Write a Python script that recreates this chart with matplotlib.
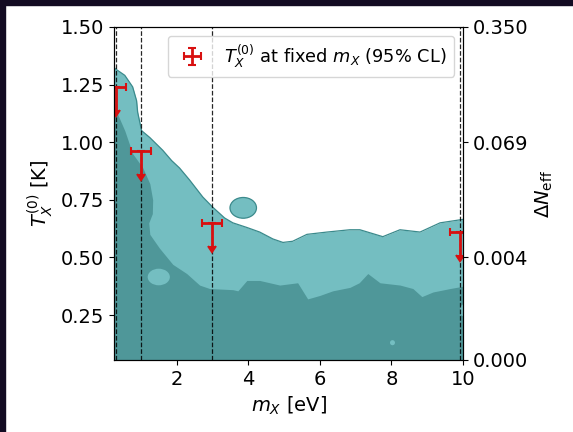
import numpy as np
import matplotlib
matplotlib.use("Agg")
import matplotlib.pyplot as plt
from matplotlib.patches import Ellipse, Rectangle

# outer (light) credible region, upper edge
outer_x = [0.25, 0.27, 0.55, 0.77, 0.88, 0.91, 1.02, 1.25, 1.61, 1.86, 2.08, 2.36,
           2.73, 3.0, 3.34, 3.57, 3.96, 4.32, 4.69, 4.97, 5.24, 5.64, 6.2, 6.84,
           7.12, 7.76, 8.24, 8.8, 9.36, 10.0]
outer_T = [1.33, 1.32, 1.29, 1.24, 1.18, 1.13, 1.05, 1.02, 0.965, 0.92, 0.888, 0.836,
           0.762, 0.719, 0.671, 0.65, 0.63, 0.61, 0.58, 0.565, 0.57, 0.60, 0.61, 0.62,
           0.62, 0.59, 0.62, 0.61, 0.65, 0.665]

# inner (dark) credible region, upper edge
inner_x = [0.25, 0.27, 0.41, 0.55, 0.77, 1.05, 1.25, 1.33, 1.32, 1.22, 1.25, 1.52,
           1.89, 2.28, 2.64, 2.92, 3.57, 3.71, 3.96, 4.32, 4.88, 5.38, 5.52, 5.66,
           6.0, 6.36, 6.84, 7.1, 7.34, 7.68, 8.24, 8.6, 8.85, 9.16, 9.64, 10.0]
inner_T = [1.16, 1.15, 1.10, 1.05, 0.95, 0.89, 0.82, 0.75, 0.69, 0.65, 0.60, 0.54,
           0.47, 0.43, 0.38, 0.365, 0.36, 0.355, 0.40, 0.40, 0.38, 0.39, 0.355, 0.32,
           0.335, 0.355, 0.37, 0.39, 0.43, 0.39, 0.38, 0.365, 0.33, 0.35, 0.365, 0.375]

# isolated islands of the contours: (m_X, T, width, height)
light_islands = [(3.86, 0.715, 0.74, 0.09), (1.5, 0.415, 0.62, 0.072),
                 (8.03, 0.13, 0.14, 0.022), (10.0, 0.27, 0.16, 0.05)]

# upper limits at fixed mass
lim_m = [0.3, 1.0, 3.0, 9.93]
lim_T = [1.24, 0.96, 0.65, 0.61]
lim_err = 0.1
mass_err = 0.28

# right axis: Delta N_eff at given T
dneff_T = [0.055, 0.5, 1.0, 1.5]
dneff_labels = ["0.000", "0.004", "0.069", "0.350"]

light = "#74bec1"
dark = "#4f9799"
edge = "#3b8a8c"
red = "#d81010"
ymin, ymax = 0.055, 1.5

fig = plt.figure(figsize=(5.73, 4.32), dpi=100)
ax = fig.add_axes([0.199, 0.1667, 0.609, 0.771])

ax.fill_between(outer_x, outer_T, ymin, color=light, lw=0)
ax.plot(outer_x, outer_T, color=edge, lw=0.9)
for cx, cy, w, h in light_islands[:1]:
    ax.add_patch(Ellipse((cx, cy), w, h, facecolor=light, edgecolor=edge, lw=0.9))
ax.fill_between(inner_x, inner_T, ymin, color=dark, lw=0)
for cx, cy, w, h in light_islands[1:]:
    ax.add_patch(Ellipse((cx, cy), w, h, facecolor=light, edgecolor="none"))

for m in lim_m:
    ax.axvline(m, color="k", ls="--", lw=0.9, alpha=0.85)

eb = ax.errorbar(lim_m, lim_T, yerr=lim_err, xerr=mass_err, uplims=True, fmt="none",
                 ecolor=red, elinewidth=2, capsize=3, capthick=1.5,
                 label=r"$T_X^{(0)}$ at fixed $m_X$ (95% CL)")
for cl in eb[1]:
    cl.set_markeredgecolor(red)
    cl.set_markerfacecolor(red)

ax.set_xlim(0.25, 10)
ax.set_ylim(ymin, ymax)
ax.set_xticks([2, 4, 6, 8, 10])
ax.set_yticks([0.25, 0.5, 0.75, 1.0, 1.25, 1.5])
ax.set_yticklabels(["0.25", "0.50", "0.75", "1.00", "1.25", "1.50"])
ax.tick_params(labelsize=14)
ax.set_xlabel(r"$m_X$ [eV]", fontsize=14)
ax.set_ylabel(r"$T_X^{(0)}$ [K]", fontsize=14)
ax.legend(loc="upper right", fontsize=12.8)

ax2 = ax.twinx()
ax2.set_ylim(ymin, ymax)
ax2.set_yticks(dneff_T)
ax2.set_yticklabels(dneff_labels)
ax2.tick_params(labelsize=14)
ax2.set_ylabel(r"$\Delta N_{\rm eff}$", fontsize=14)

# dark frame of the screenshot
fig.patches.append(Rectangle((0, 1 - 5 / 432), 1, 5 / 432, transform=fig.transFigure,
                             color="#130b22", zorder=10))
fig.patches.append(Rectangle((0, 0), 5 / 573, 1, transform=fig.transFigure,
                             color="#130b22", zorder=10))

fig.savefig("out.png", dpi=100)
